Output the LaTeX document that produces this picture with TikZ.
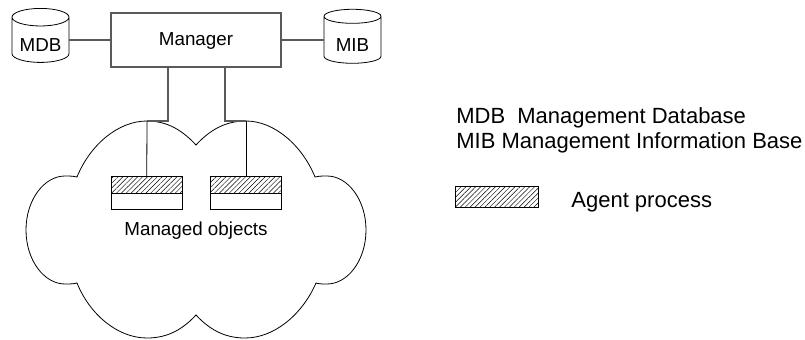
\documentclass[tikz,border=0pt]{standalone}
\usepackage{fontspec}
\setmainfont{Liberation Sans}
\usetikzlibrary{shapes.geometric,patterns.meta}
\definecolor{linkgray}{RGB}{90,90,90}
\tikzset{
  label text/.style={font=\fontsize{14.1}{16}\selectfont, text=black, inner sep=0pt},
  legend text/.style={font=\fontsize{16.5}{19}\selectfont, text=black, inner sep=0pt, anchor=base west},
  store/.style={draw, cylinder, shape border rotate=90, aspect=0.42, minimum width=57*0.75pt, minimum height=54*0.75pt, inner sep=0pt, outer sep=0pt, font=\fontsize{14.1}{16}\selectfont},
  hatched/.style={draw, pattern={Lines[angle=45,distance=2.6pt,line width=0.35pt]}, inner sep=0pt, outer sep=0pt},
  plainbox/.style={draw, inner sep=0pt, outer sep=0pt},
  link/.style={draw=linkgray, line width=1pt}
}
\begin{document}
\begin{tikzpicture}[x=0.75pt, y=-0.75pt, line width=0.6pt]
\useasboundingbox (0,0) rectangle (805,339);

% Cloud
\coordinate (peakleft) at (147,121);
\coordinate (peakright) at (246,121);
\draw (77,177) .. controls (90,145) and (118,121) .. (peakleft)
  .. controls (168,121) and (183,131) .. (196,145)
  .. controls (209,131) and (224,121) .. (peakright)
  .. controls (274,121) and (302,145) .. (315,177)
  .. controls (319,176) and (323,176) .. (327,176)
  .. controls (348,176) and (366,200) .. (366,230)
  .. controls (366,260) and (348,284) .. (327,284)
  .. controls (323,284) and (319,284) .. (316,283)
  .. controls (302,315) and (274,338) .. (245,338)
  .. controls (224,338) and (209,329) .. (196,315)
  .. controls (183,329) and (168,338) .. (147,338)
  .. controls (118,338) and (90,315) .. (77,283)
  .. controls (73,284) and (69,284) .. (65,284)
  .. controls (44,284) and (26,260) .. (26,230)
  .. controls (26,200) and (44,176) .. (65,176)
  .. controls (69,176) and (73,176) .. (77,177) -- cycle;

% Manager and stores
\node[plainbox, link, minimum width=170*0.75pt, minimum height=54*0.75pt, label text, text height=11pt, text depth=2.4pt] (manager) at (196,40) {Manager};
\node[store] (mdb) at (40.5,40) {\raisebox{-9pt}[0pt][0pt]{MDB}};
\node[store] (mib) at (352.5,40) {\raisebox{-9pt}[0pt][0pt]{MIB}};

% Agent boxes
\node[hatched, minimum width=71.5*0.75pt, minimum height=17*0.75pt] (agentleft) at (146.75,184.5) {};
\node[plainbox, minimum width=71.5*0.75pt, minimum height=16.5*0.75pt] (objectleft) at (146.75,201.25) {};
\node[hatched, minimum width=71*0.75pt, minimum height=17*0.75pt] (agentright) at (246,184.5) {};
\node[plainbox, minimum width=71*0.75pt, minimum height=16.5*0.75pt] (objectright) at (246,201.25) {};
\node[label text] (objects) at (196,230.5) {Managed objects};

% Legend
\node[legend text] (mdbtext) at (456,123.3) {MDB\hspace{9pt}Management Database};
\node[legend text] (mibtext) at (456,148.3) {MIB Management Information Base};
\node[hatched, minimum width=83.5*0.75pt, minimum height=20.5*0.75pt] (legendbox) at (497,197) {};
\node[legend text] (agenttext) at (571,207.7) {Agent process};

% Connectors
\draw[link] (mdb.east) -- (manager.west);
\draw[link] (manager.east) -- (mib.west);
\draw[link] (manager.south -| 167.9,0) |- (peakleft);
\draw[link] (manager.south -| 225,0) |- (peakright);
\draw (peakleft) -- (agentleft.north);
\draw (peakright) -- (agentright.north);
\end{tikzpicture}
\end{document}
